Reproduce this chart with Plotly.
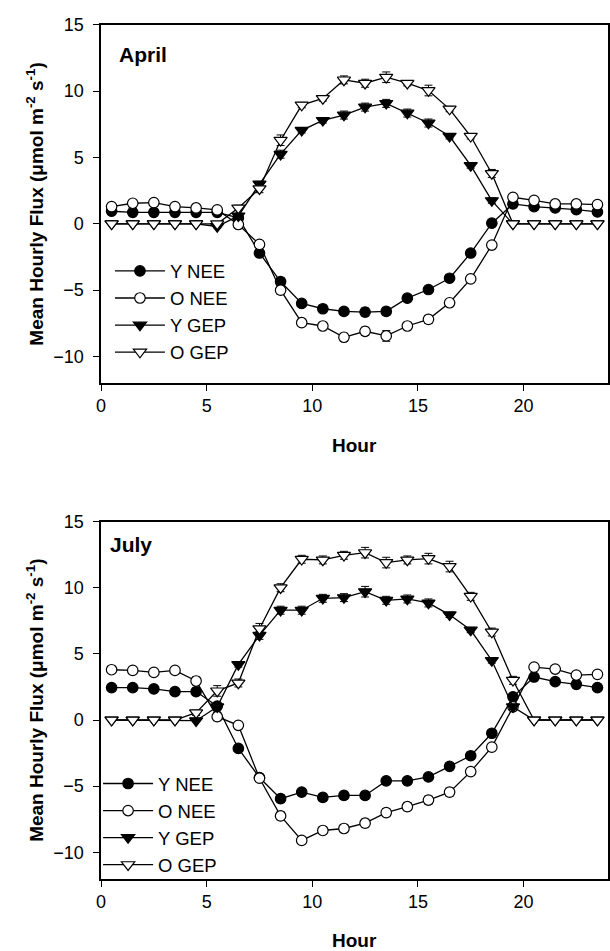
import plotly.graph_objects as go

# Hour of day (mid-hour bins)
hours = [h + 0.5 for h in range(24)]

# April mean hourly fluxes (umol m-2 s-1)
april_y_nee = [0.95, 0.87, 0.87, 0.87, 0.87, 0.87, 0.45, -2.2, -4.35, -6.0, -6.4, -6.6,
               -6.65, -6.6, -5.6, -4.95, -4.1, -2.2, 0.05, 1.5, 1.3, 1.2, 1.07, 0.9]
april_o_nee = [1.3, 1.55, 1.6, 1.3, 1.2, 1.05, -0.05, -1.55, -5.0, -7.45, -7.7, -8.55,
               -8.1, -8.45, -7.7, -7.2, -5.95, -4.15, -1.6, 2.0, 1.77, 1.5, 1.5, 1.45]
april_y_gep = [0, 0, 0, 0, 0, -0.2, 0.6, 3.0, 5.25, 7.05, 7.8, 8.2,
               8.8, 9.08, 8.35, 7.6, 6.6, 4.4, 1.75, 0, 0, 0, 0, 0]
april_o_gep = [0, 0, 0, 0, 0, 0, 1.2, 2.65, 6.3, 8.95, 9.45, 10.85,
               10.6, 11.05, 10.6, 10.05, 8.65, 6.6, 3.8, 0, 0, 0, 0, 0]

# April standard errors
april_y_nee_se = [0.1] * 6 + [0.2, 0.2, 0.3, 0.2, 0.2, 0.2, 0.3, 0.3, 0.2, 0.2, 0.2, 0.2, 0.2, 0.1, 0.1, 0.1, 0.1, 0.1]
april_o_nee_se = [0.1] * 6 + [0.2, 0.2, 0.3, 0.2, 0.2, 0.3, 0.3, 0.4, 0.2, 0.3, 0.2, 0.2, 0.2, 0.1, 0.1, 0.1, 0.1, 0.1]
april_y_gep_se = [0] * 5 + [0.1, 0.2, 0.2, 0.3, 0.2, 0.2, 0.3, 0.3, 0.3, 0.3, 0.3, 0.2, 0.2, 0.2, 0, 0, 0, 0, 0]
april_o_gep_se = [0] * 6 + [0.2, 0.3, 0.4, 0.2, 0.2, 0.3, 0.3, 0.4, 0.2, 0.4, 0.2, 0.2, 0.3, 0, 0, 0, 0, 0]

# July mean hourly fluxes (umol m-2 s-1)
july_y_nee = [2.45, 2.45, 2.35, 2.15, 2.15, 1.05, -2.15, -4.35, -5.95, -5.45, -5.85, -5.7,
              -5.7, -4.6, -4.6, -4.3, -3.5, -2.7, -1.0, 1.75, 3.25, 2.9, 2.7, 2.45]
july_o_nee = [3.8, 3.75, 3.6, 3.75, 2.95, 0.25, -0.4, -4.4, -7.25, -9.1, -8.35, -8.2,
              -7.8, -7.0, -6.55, -6.05, -5.45, -3.9, -2.05, 1.0, 4.0, 3.85, 3.4, 3.45]
july_y_gep = [0, 0, 0, 0, -0.05, 1.0, 4.2, 6.4, 8.3, 8.3, 9.2, 9.25,
              9.7, 9.05, 9.15, 8.85, 7.95, 6.8, 4.5, 1.0, 0, 0, 0, 0]
july_o_gep = [0, 0, 0, 0, 0.55, 2.2, 2.8, 6.9, 10.0, 12.15, 12.1, 12.45,
              12.65, 11.9, 12.1, 12.2, 11.6, 9.35, 6.65, 3.0, 0, 0, 0, 0]

# July standard errors
july_y_nee_se = [0.1] * 5 + [0.2, 0.2, 0.2, 0.3, 0.2, 0.3, 0.3, 0.3, 0.2, 0.2, 0.2, 0.2, 0.2, 0.2, 0.2, 0.1, 0.1, 0.1, 0.1]
july_o_nee_se = [0.1, 0.1, 0.1, 0.1, 0.3, 0.3, 0.2, 0.2, 0.3, 0.2, 0.3, 0.3, 0.3, 0.3, 0.3, 0.3, 0.3, 0.2, 0.2, 0.2, 0.1, 0.1, 0.1, 0.1]
july_y_gep_se = [0] * 5 + [0.2, 0.2, 0.3, 0.3, 0.3, 0.3, 0.3, 0.4, 0.3, 0.3, 0.3, 0.2, 0.2, 0.2, 0.2, 0, 0, 0, 0]
july_o_gep_se = [0] * 4 + [0.2, 0.4, 0.3, 0.4, 0.3, 0.3, 0.3, 0.3, 0.4, 0.4, 0.3, 0.4, 0.4, 0.3, 0.3, 0.3, 0, 0, 0, 0]

series_names = ["Y NEE", "O NEE", "Y GEP", "O GEP"]
panel_titles = ["April", "July"]
x_ticks = [0, 5, 10, 15, 20]
y_ticks = [-10, -5, 0, 5, 10, 15]

FONT = "Liberation Sans, Arial, Helvetica, sans-serif"
W, H = 610, 951

styles = [
    dict(symbol="circle", color="black"),
    dict(symbol="circle", color="white"),
    dict(symbol="triangle-down", color="black"),
    dict(symbol="triangle-down", color="white"),
]

panels = [
    ([april_y_nee, april_o_nee, april_y_gep, april_o_gep],
     [april_y_nee_se, april_o_nee_se, april_y_gep_se, april_o_gep_se]),
    ([july_y_nee, july_o_nee, july_y_gep, july_o_gep],
     [july_y_nee_se, july_o_nee_se, july_y_gep_se, july_o_gep_se]),
]

fig = go.Figure()

# plot area pixel boxes: (left, top, right, bottom)
boxes = [(97, 15, 609, 377), (97, 517, 609, 878)]

for p, (vals, errs) in enumerate(panels):
    xa = "x" if p == 0 else "x2"
    ya = "y" if p == 0 else "y2"
    lg = "legend" if p == 0 else "legend2"
    for name, v, e, st in zip(series_names, vals, errs, styles):
        fig.add_trace(go.Scatter(
            x=hours, y=v, mode="lines+markers", name=name,
            xaxis=xa, yaxis=ya, legend=lg,
            line=dict(color="black", width=1.3),
            marker=dict(symbol=st["symbol"], color=st["color"],
                        size=10.5 if "circle" in st["symbol"] else 11.5,
                        line=dict(color="black", width=1.2)),
            error_y=dict(type="data", array=e, visible=True, color="black", thickness=1, width=4),
        ))

def xdom(b):
    return [b[0] / W, b[2] / W]

def ydom(b):
    return [1 - b[3] / H, 1 - b[1] / H]

axis_common = dict(
    showline=True, linecolor="black", linewidth=1.5, mirror=True,
    ticks="outside", ticklen=6, tickwidth=1.2, tickcolor="black",
    showgrid=False, zeroline=False,
    tickfont=dict(family=FONT, size=18, color="black"),
)
x_common = dict(range=[0, 24], tickvals=x_ticks, ticklabelstandoff=0, **axis_common)
y_common = dict(range=[-12, 15], tickvals=y_ticks, ticklabelstandoff=6, **axis_common)

legend_common = dict(xanchor="left", yanchor="top", bgcolor="rgba(0,0,0,0)",
                     font=dict(family=FONT, size=18.5, color="black"),
                     itemwidth=50, tracegroupgap=0)

fig.update_layout(
    width=W, height=H,
    margin=dict(l=0, r=0, t=0, b=0),
    paper_bgcolor="white", plot_bgcolor="white",
    font=dict(family=FONT, color="black"),
    xaxis=dict(domain=xdom(boxes[0]), anchor="y", **x_common),
    yaxis=dict(domain=ydom(boxes[0]), anchor="x", **y_common),
    xaxis2=dict(domain=xdom(boxes[1]), anchor="y2", **x_common),
    yaxis2=dict(domain=ydom(boxes[1]), anchor="x2", **y_common),
    legend=dict(x=106 / W, y=1 - 245 / H, **legend_common),
    legend2=dict(x=94 / W, y=1 - 763 / H, **legend_common),
)

ann = []
title_pos = [(113, 45), (104, 540)]
hour_y = [440, 940]
for p, b in enumerate(boxes):
    ann.append(dict(text="<b>%s</b>" % panel_titles[p], x=title_pos[p][0] / W, y=1 - title_pos[p][1] / H,
                    xref="paper", yref="paper", xanchor="left", yanchor="middle", showarrow=False,
                    font=dict(family=FONT, size=21, color="black")))
    ann.append(dict(text="<b>Hour</b>", x=(b[0] + b[2]) / 2 / W, y=1 - hour_y[p] / H,
                    xref="paper", yref="paper", xanchor="center", yanchor="middle", showarrow=False,
                    font=dict(family=FONT, size=19, color="black")))
    ann.append(dict(text="<b>Mean Hourly Flux (\u03bcmol m<sup>-2</sup> s<sup>-1</sup>)</b>",
                    x=30 / W, y=1 - ((b[1] + b[3]) / 2) / H, textangle=-90,
                    xref="paper", yref="paper", xanchor="center", yanchor="middle", showarrow=False,
                    font=dict(family=FONT, size=19, color="black")))
fig.update_layout(annotations=ann)

fig.write_html("out.html")
